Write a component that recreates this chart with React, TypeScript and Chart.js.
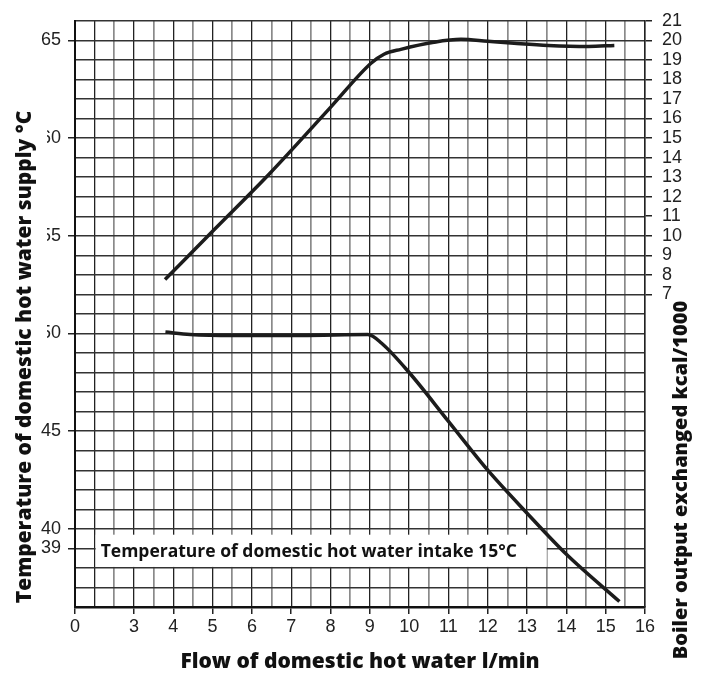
import React, { useEffect, useRef } from "react";
import { Chart, registerables } from "chart.js";

Chart.register(...registerables);

// ---- Data ----
// Boiler output exchanged (kcal/1000, right axis) vs flow (l/min)
const outputFlow = [3.79, 5.0, 6.46, 8.0, 9.03, 9.36, 9.79, 10.63, 11.32, 12.0, 12.67, 13.54, 14.56, 15.22];
const outputKcal = [7.76, 10.23, 13.2, 16.57, 18.83, 19.29, 19.54, 19.9, 20.05, 19.95, 19.85, 19.74, 19.69, 19.74];

// Temperature of domestic hot water supply (°C, left axis) vs flow (l/min)
const supplyFlow = [3.8, 4.43, 5.53, 7.24, 8.95, 9.3, 10.0, 11.0, 12.0, 13.0, 14.0, 15.35];
const supplyTemp = [50.07, 49.95, 49.9, 49.9, 49.95, 49.5, 48.0, 45.5, 43.0, 40.8, 38.7, 36.28];

// Axes
const xMin = 1.5; // broken axis: this position is labelled "0"
const xMax = 16;
const xTickValues = [1.5, 3, 4, 5, 6, 7, 8, 9, 10, 11, 12, 13, 14, 15, 16];
const xTickLabels = ["0", "3", "4", "5", "6", "7", "8", "9", "10", "11", "12", "13", "14", "15", "16"];
const xGridStep = 0.5;

const tempMin = 36;
const tempMax = 66;
const tempTicks = [65, 60, 55, 50, 45, 40, 39];

const kcalMin = -9;
const kcalMax = 21;
const kcalTicks = [7, 8, 9, 10, 11, 12, 13, 14, 15, 16, 17, 18, 19, 20, 21];

// Texts
const xTitle = "Flow of domestic hot water l/min";
const yLeftTitle = "Temperature of domestic hot water supply °C";
const yRightTitle = "Boiler output exchanged kcal/1000";
const noteText = "Temperature of domestic hot water intake 15°C";
const noteX = [2, 13.5];
const noteY = [38, 39.7];

const TITLE_FONT = "800 21px 'Open Sans', Lato, sans-serif";
const RIGHT_TITLE_FONT = "800 20px 'Open Sans', Lato, sans-serif";
const NOTE_FONT = "bold 17.5px 'Open Sans', Lato, sans-serif";
const TICK_FONT = { family: "'Liberation Sans', Arial, sans-serif", size: 18 };

const overlayPlugin = {
  id: "overlay",
  beforeDatasetsDraw(chart: any) {
    const { ctx, scales } = chart;
    const xs = scales.x;
    const ys = scales.y;
    const x0 = xs.getPixelForValue(noteX[0]) + 1;
    const x1 = xs.getPixelForValue(noteX[1]);
    const y0 = ys.getPixelForValue(noteY[1]);
    const y1 = ys.getPixelForValue(noteY[0]) - 1;
    ctx.save();
    ctx.fillStyle = "#ffffff";
    ctx.fillRect(x0, y0, x1 - x0, y1 - y0);
    ctx.fillStyle = "#111";
    ctx.font = NOTE_FONT;
    ctx.textAlign = "left";
    ctx.textBaseline = "middle";
    ctx.fillText(noteText, x0 + 5, (y0 + y1) / 2 + 1);
    ctx.restore();
  },
  afterDraw(chart: any) {
    const { ctx, chartArea, scales } = chart;
    ctx.save();
    // the reference clips the first digit of the 60 / 55 / 50 labels
    const ys = scales.y;
    ctx.fillStyle = "#ffffff";
    const mTop = ys.getPixelForValue(61.5);
    const mBot = ys.getPixelForValue(49.2);
    ctx.fillRect(0, mTop, 47, mBot - mTop);

    ctx.font = TITLE_FONT;
    ctx.fillStyle = "#111";
    ctx.textAlign = "center";
    ctx.textBaseline = "middle";
    // bottom title
    ctx.fillText(xTitle, (chartArea.left + chartArea.right) / 2, 662);

    // left title
    ctx.save();
    ctx.translate(25, 357);
    ctx.rotate(-Math.PI / 2);
    ctx.fillText(yLeftTitle, 0, 0);
    ctx.restore();

    // right title
    ctx.save();
    ctx.font = RIGHT_TITLE_FONT;
    ctx.translate(681, 480);
    ctx.rotate(-Math.PI / 2);
    ctx.fillText(yRightTitle, 0, 0);
    ctx.restore();
    ctx.restore();
  },
};

export default function App() {
  const canvasRef = useRef<HTMLCanvasElement | null>(null);

  useEffect(() => {
    if (!canvasRef.current) return;
    const chart = new Chart(canvasRef.current, {
      type: "line",
      data: {
        datasets: [
          {
            label: "Boiler output",
            data: outputFlow.map((x, i) => ({ x, y: outputKcal[i] })),
            yAxisID: "y2",
            borderColor: "#1c1c1c",
            borderWidth: 3.5,
            pointRadius: 0,
            cubicInterpolationMode: "monotone",
            fill: false,
          },
          {
            label: "Supply temperature",
            data: supplyFlow.map((x, i) => ({ x, y: supplyTemp[i] })),
            yAxisID: "y",
            borderColor: "#1c1c1c",
            borderWidth: 3.5,
            pointRadius: 0,
            cubicInterpolationMode: "monotone",
            fill: false,
          },
        ],
      },
      options: {
        responsive: true,
        maintainAspectRatio: false,
        animation: false,
        layout: { padding: { top: 19, left: 0, right: 0, bottom: 0 } },
        plugins: {
          legend: { display: false },
          tooltip: { enabled: false },
        },
        scales: {
          xGrid: {
            type: "linear",
            position: "top",
            min: xMin,
            max: xMax,
            afterBuildTicks: (s: any) => {
              const t = [];
              for (let v = xMin; v <= xMax + 1e-9; v += xGridStep) t.push({ value: v });
              s.ticks = t;
            },
            afterFit: (s: any) => {
              s.height = 0;
            },
            ticks: { display: false },
            border: { display: false },
            grid: {
              drawTicks: false,
              color: (c: any) =>
                Math.abs(c.tick.value - Math.round(c.tick.value)) < 1e-6 ? "#222222" : "#8a8a8a",
              lineWidth: (c: any) =>
                Math.abs(c.tick.value - Math.round(c.tick.value)) < 1e-6 ? 1.3 : 1.7,
            },
          },
          x: {
            type: "linear",
            position: "bottom",
            min: xMin,
            max: xMax,
            afterBuildTicks: (s: any) => {
              s.ticks = xTickValues.map((v) => ({ value: v }));
            },
            afterFit: (s: any) => {
              s.height = 66;
            },
            ticks: {
              autoSkip: false,
              maxRotation: 0,
              padding: 2,
              color: "#222",
              font: TICK_FONT,
              callback: (v: any) => {
                const i = xTickValues.indexOf(Number(v));
                return i >= 0 ? xTickLabels[i] : "";
              },
            },
            grid: {
              drawOnChartArea: false,
              drawTicks: true,
              tickLength: 7,
              color: "#222",
              lineWidth: 1.5,
            },
            border: { display: true, color: "#111", width: 2.5 },
          },
          yGrid: {
            type: "linear",
            position: "left",
            min: tempMin,
            max: tempMax,
            afterBuildTicks: (s: any) => {
              const t = [];
              for (let v = tempMin; v <= tempMax; v += 1) t.push({ value: v });
              s.ticks = t;
            },
            afterFit: (s: any) => {
              s.width = 0;
            },
            ticks: { display: false },
            border: { display: false },
            grid: {
              drawTicks: false,
              color: "#333333",
              lineWidth: 1.4,
            },
          },
          y: {
            type: "linear",
            position: "left",
            min: tempMin,
            max: tempMax,
            afterBuildTicks: (s: any) => {
              s.ticks = tempTicks.map((v) => ({ value: v }));
            },
            afterFit: (s: any) => {
              s.width = 75;
            },
            ticks: {
              autoSkip: false,
              padding: 7,
              color: "#222",
              font: TICK_FONT,
            },
            grid: {
              drawOnChartArea: false,
              drawTicks: true,
              tickLength: 7,
              color: "#222",
              lineWidth: 1.5,
            },
            border: { display: true, color: "#111", width: 2 },
          },
          y2: {
            type: "linear",
            position: "right",
            min: kcalMin,
            max: kcalMax,
            afterBuildTicks: (s: any) => {
              s.ticks = kcalTicks.map((v) => ({ value: v }));
            },
            afterFit: (s: any) => {
              s.width = 56;
            },
            ticks: {
              autoSkip: false,
              padding: 10,
              color: "#222",
              font: TICK_FONT,
            },
            grid: {
              drawOnChartArea: false,
              drawTicks: true,
              tickLength: 7,
              color: "#222",
              lineWidth: 1.5,
            },
            border: { display: true, color: "#222", width: 1.5 },
          },
        },
      },
      plugins: [overlayPlugin],
    } as any);
    return () => chart.destroy();
  }, []);

  return (
    <div style={{ position: "absolute", left: 0, top: 0, width: 701, height: 673, background: "#fff" }}>
      <canvas ref={canvasRef} />
    </div>
  );
}
